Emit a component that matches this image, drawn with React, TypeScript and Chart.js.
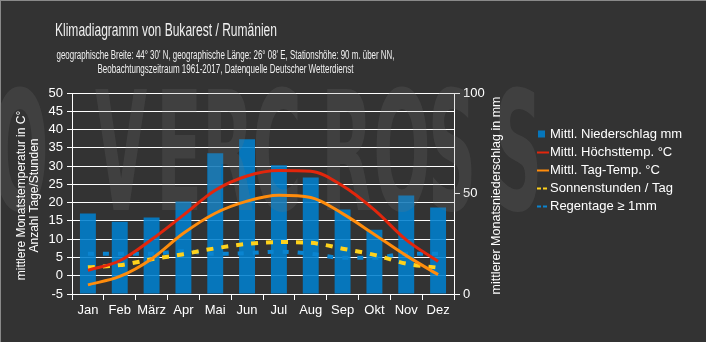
import React, { useEffect, useRef } from 'react';
import { Chart, registerables } from 'chart.js';

Chart.register(...registerables);

// ---------- data ----------
const months = ['Jan', 'Feb', 'März', 'Apr', 'Mai', 'Jun', 'Jul', 'Aug', 'Sep', 'Okt', 'Nov', 'Dez'];
const precipitation = [40, 36, 38, 46, 70, 77, 64, 58, 42, 32, 49, 43];
const maxTemp = [1.5, 4.1, 9.9, 16.6, 23.4, 27.3, 28.8, 28.6, 24.6, 18.0, 9.8, 3.9];
const meanTemp = [-2.5, -0.2, 4.6, 11.6, 17.1, 20.4, 22.0, 21.4, 17.0, 11.3, 5.5, 0.3];
const sunHours = [2.3, 2.9, 4.5, 5.9, 7.5, 8.7, 9.2, 9.0, 7.4, 5.7, 3.3, 2.2];
const rainDays = [6.0, 6.0, 6.0, 6.7, 6.0, 6.2, 6.6, 6.0, 4.9, 4.9, 6.0, 6.0];

const seriesLabels = [
  'Mittl. Niederschlag mm',
  'Mittl. Höchsttemp. °C',
  'Mittl. Tag-Temp. °C',
  'Sonnenstunden / Tag',
  'Regentage ≥ 1mm',
];

const tempMin = -5;
const tempMax = 50;
const tempStep = 5;
const precMin = 0;
const precMax = 100;
const precStep = 50;

const titleText = 'Klimadiagramm von Bukarest / Rumänien';
const subtitleLines = [
  "geographische Breite: 44° 30' N, geographische Länge: 26° 08' E, Stationshöhe: 90 m. über NN,",
  'Beobachtungszeitraum 1961-2017, Datenquelle Deutscher Wetterdienst',
];
const leftAxisTitle = ['mittlere Monatstemperatur in C°', 'Anzahl Tage/Stunden'];
const rightAxisTitle = 'mittlerer Monatsniederschlag in mm';
const watermarkText = 'OVERCROSS';

// ---------- styles ----------
const BG = '#333333';
const FONT = '"Liberation Sans", Arial, sans-serif';
const NARROW = '"Liberation Sans Narrow", "Liberation Sans", Arial, sans-serif';
const BAR_COLOR = 'rgba(0,128,206,0.88)';
const RED = '#e2260c';
const ORANGE = '#ff8c0c';
const YELLOW = '#ffd21c';
const BLUE = '#0a84d0';

function fillFitted(ctx: CanvasRenderingContext2D, text: string, x: number, y: number, maxW: number, align: 'left' | 'center') {
  const w = ctx.measureText(text).width;
  const s = maxW / w;
  ctx.save();
  ctx.translate(x, y);
  ctx.scale(s, 1);
  ctx.textAlign = align;
  ctx.fillText(text, 0, 0);
  ctx.restore();
}

const backgroundPlugin = {
  id: 'bg',
  beforeDraw(chart: any) {
    const { ctx, width, height } = chart;
    ctx.save();
    ctx.fillStyle = BG;
    ctx.fillRect(0, 0, width, height);
    ctx.fillStyle = '#8a8a8a';
    ctx.fillRect(0, 0, width, 1);
    ctx.fillRect(0, 0, 1, height);
    ctx.restore();
  },
};

const watermarkPlugin = {
  id: 'watermark',
  afterDatasetDraw(chart: any, args: any) {
    if (args.index !== 0) return;
    const { ctx } = chart;
    const centers = [20, 121, 179, 228, 277, 347, 402, 452, 518];
    ctx.save();
    ctx.fillStyle = 'rgba(120,120,120,0.2)';
    ctx.font = 'bold 150px "DejaVu Sans", sans-serif';
    ctx.textBaseline = 'alphabetic';
    ctx.textAlign = 'center';
    for (let i = 0; i < watermarkText.length; i++) {
      ctx.save();
      ctx.translate(centers[i], 210);
      ctx.scale(0.45, 1.1);
      ctx.fillText(watermarkText[i], 0, 0);
      ctx.restore();
    }
    ctx.restore();
  },
};

const textPlugin = {
  id: 'texts',
  afterDraw(chart: any) {
    const { ctx, chartArea } = chart;
    ctx.save();
    ctx.fillStyle = '#f0f0f0';
    ctx.textBaseline = 'alphabetic';
    ctx.font = '17.5px ' + NARROW;
    fillFitted(ctx, titleText, 55, 36, 222, 'left');
    ctx.font = '12.5px ' + NARROW;
    fillFitted(ctx, subtitleLines[0], 225.5, 58.5, 338, 'center');
    fillFitted(ctx, subtitleLines[1], 225.5, 72.5, 256, 'center');

    // axis titles
    const cy = (chartArea.top + chartArea.bottom) / 2 + 2;
    ctx.fillStyle = '#ffffff';
    ctx.font = '12px ' + FONT;
    ctx.textBaseline = 'middle';
    ctx.textAlign = 'center';
    [22, 35].forEach((x, i) => {
      ctx.save();
      ctx.translate(x, cy);
      ctx.rotate(-Math.PI / 2);
      ctx.fillText(leftAxisTitle[i], 0, 0);
      ctx.restore();
    });
    ctx.font = '12.5px ' + FONT;
    ctx.save();
    ctx.translate(497, cy);
    ctx.rotate(-Math.PI / 2);
    ctx.fillText(rightAxisTitle, 0, 0);
    ctx.restore();

    // legend
    const lx = 537;
    let ly = 134;
    ctx.font = '13px ' + FONT;
    ctx.textAlign = 'left';
    ctx.textBaseline = 'middle';
    chart.data.datasets.forEach((ds: any) => {
      if (ds.type === 'bar') {
        ctx.fillStyle = BAR_COLOR;
        ctx.fillRect(lx + 1, ly - 3.5, 7, 7);
      } else {
        ctx.strokeStyle = ds.borderColor;
        ctx.lineWidth = 2;
        ctx.setLineDash(ds.borderDash ? [4, 2] : []);
        ctx.beginPath();
        ctx.moveTo(lx, ly + 0.5);
        ctx.lineTo(lx + 12, ly + 0.5);
        ctx.stroke();
        ctx.setLineDash([]);
      }
      ctx.fillStyle = '#ffffff';
      ctx.fillText(ds.label, lx + 13, ly);
      ly += 18;
    });
    ctx.restore();
  },
};

export default function App() {
  const canvasRef = useRef<HTMLCanvasElement | null>(null);

  useEffect(() => {
    document.body.style.margin = '0';
    const canvas = canvasRef.current;
    if (!canvas) return;

    const lineCommon = {
      type: 'line' as const,
      yAxisID: 'y',
      pointRadius: 0,
      pointHoverRadius: 0,
      fill: false,
      cubicInterpolationMode: 'monotone' as const,
    };

    const chart = new Chart(canvas, {
      data: {
        labels: months,
        datasets: [
          {
            type: 'bar',
            label: seriesLabels[0],
            data: precipitation,
            yAxisID: 'y1',
            backgroundColor: BAR_COLOR,
            borderWidth: 0,
            barPercentage: 0.5,
            categoryPercentage: 1,
            order: 10,
          },
          { ...lineCommon, label: seriesLabels[1], data: maxTemp, borderColor: RED, borderWidth: 3, order: 1 },
          { ...lineCommon, label: seriesLabels[2], data: meanTemp, borderColor: ORANGE, borderWidth: 3, order: 2 },
          { ...lineCommon, label: seriesLabels[3], data: sunHours, borderColor: YELLOW, borderWidth: 4, borderDash: [7, 8], order: 3 },
          { ...lineCommon, label: seriesLabels[4], data: rainDays, borderColor: BLUE, borderWidth: 4, borderDash: [6, 9], order: 4 },
        ] as any,
      },
      options: {
        responsive: false,
        animation: false,
        devicePixelRatio: 1,
        layout: { padding: { left: 0, right: 192, top: 93, bottom: 18 } },
        plugins: {
          legend: { display: false },
          tooltip: { enabled: false },
          title: { display: false },
        },
        scales: {
          x: {
            offset: true,
            grid: { drawOnChartArea: false, color: '#ffffff', tickLength: 6, offset: true },
            border: { color: '#ffffff' },
            ticks: { color: '#ffffff', font: { family: FONT, size: 13 }, padding: 3, maxRotation: 0, autoSkip: false },
            afterFit: (s: any) => { s.height = 30; },
          },
          y: {
            position: 'left',
            min: tempMin,
            max: tempMax,
            ticks: { stepSize: tempStep, color: '#ffffff', font: { family: FONT, size: 13 }, padding: 4, autoSkip: false },
            grid: { color: '#ffffff', lineWidth: 1, tickLength: 5 },
            border: { color: '#ffffff' },
            afterFit: (s: any) => { s.width = 72; },
          },
          y1: {
            position: 'right',
            min: precMin,
            max: precMax,
            ticks: { stepSize: precStep, color: '#ffffff', font: { family: FONT, size: 13 }, padding: 3, autoSkip: false },
            grid: { drawOnChartArea: false, color: '#ffffff', tickLength: 6 },
            border: { color: '#ffffff' },
            afterFit: (s: any) => { s.width = 60; },
          },
        },
      } as any,
      plugins: [backgroundPlugin, watermarkPlugin, textPlugin],
    });

    return () => chart.destroy();
  }, []);

  return (
    <div style={{ width: 706, height: 342, background: BG }}>
      <canvas ref={canvasRef} width={706} height={342} style={{ display: 'block', width: 706, height: 342 }} />
    </div>
  );
}
